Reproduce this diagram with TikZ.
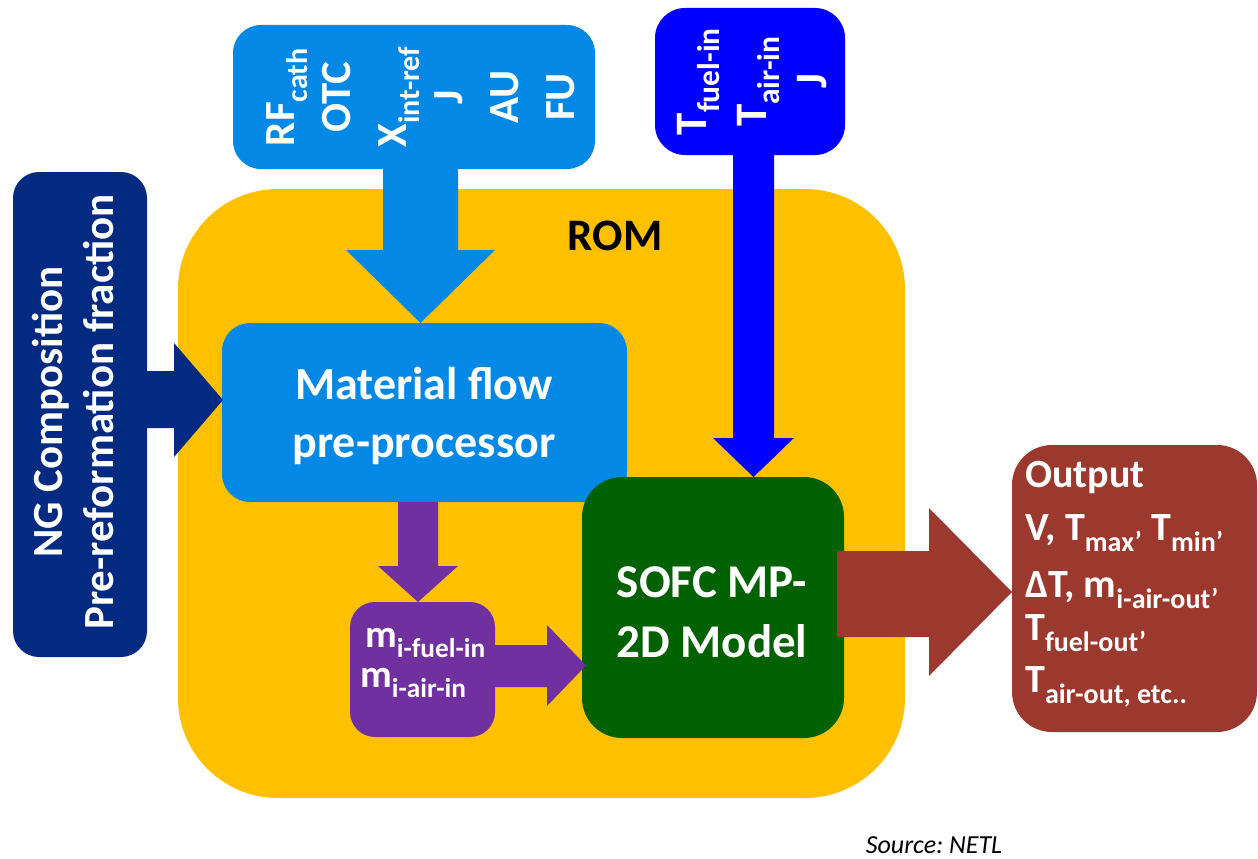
\documentclass[tikz,border=0pt]{standalone}
\usepackage{fontspec}
\setmainfont{Carlito}
\frenchspacing
\definecolor{romyellow}{RGB}{255,192,0}
\definecolor{lblue}{RGB}{4,136,230}
\definecolor{pureblue}{RGB}{0,0,255}
\definecolor{navyblue}{RGB}{2,42,128}
\definecolor{purp}{RGB}{112,48,160}
\definecolor{dgreen}{RGB}{0,97,0}
\definecolor{brownred}{RGB}{155,57,46}
\begin{document}
\begin{tikzpicture}[x=1pt,y=-1pt,
  boxshape/.style={rounded corners=#1, inner sep=0pt, outer sep=0pt, draw=none},
  wtext/.style={text=white, inner sep=0pt, align=center},
  linetext/.style={text=white, inner sep=0pt, anchor=base west}
]
\useasboundingbox (0,0) rectangle (1258,859);

% ROM container
\node[boxshape=100pt, fill=romyellow, minimum width=727pt, minimum height=609pt] (rom) at (541.5,493.5) {};
\node[inner sep=0pt, font=\fontsize{45}{52}\selectfont\bfseries] (romlabel) at (615,236) {ROM};

% input parameter box
\node[boxshape=28pt, fill=lblue, minimum width=362pt, minimum height=144pt] (params) at (414,97) {};
\node[wtext, rotate=90, font=\fontsize{43}{56}\selectfont\bfseries] (paramtext) at (421,97)
  {RF\textsubscript{cath}\\OTC\\X\textsubscript{int-ref}\\J\\AU\\FU};

% temperature box
\node[boxshape=30pt, fill=pureblue, minimum width=190pt, minimum height=147pt] (tbox) at (750,81.5) {};
\node[wtext, rotate=90, font=\fontsize{45}{60}\selectfont\bfseries] (ttext) at (752,81.5)
  {T\textsubscript{fuel-in}\\T\textsubscript{air-in}\\J};

% NG box
\node[boxshape=26pt, fill=navyblue, minimum width=134pt, minimum height=485pt] (ng) at (80,414.5) {};
\node[wtext, rotate=90, font=\fontsize{43}{51}\selectfont\bfseries] (ngtext) at (73,412)
  {NG Composition\\Pre-reformation fraction};

% material flow pre-processor
\node[boxshape=28pt, fill=lblue, minimum width=405pt, minimum height=179pt] (mat) at (424.5,412.5) {};
\node[wtext, font=\fontsize{46}{58}\selectfont\bfseries] (mattext) at (424,416)
  {Material flow\\pre-processor};

% mass flow box
\node[boxshape=25pt, fill=purp, minimum width=145pt, minimum height=135pt] (mbox) at (422.5,669.5) {};
\begin{scope}[every node/.style={linetext, font=\fontsize{39}{48}\selectfont\bfseries}]
\node (m1) at (365,647) {m\textsubscript{i-fuel-in}};
\node (m2) at (360,687) {m\textsubscript{i-air-in}};
\end{scope}

% SOFC model
\node[boxshape=40pt, fill=dgreen, minimum width=262pt, minimum height=261pt] (sofc) at (713,607.5) {};
\node[wtext, font=\fontsize{47}{60}\selectfont\bfseries] (sofctext) at (712,612)
  {SOFC MP-\\2D Model};

% output box
\node[boxshape=40pt, fill=brownred, minimum width=245pt, minimum height=287pt] (out) at (1134.5,588.5) {};
\begin{scope}[every node/.style={linetext, font=\fontsize{40}{48}\selectfont\bfseries}]
\node (o1) at (1025,487) {Output};
\node (o2) at (1025,540) {V, T\textsubscript{max’} T\textsubscript{min’}};
\node (o3) at (1025,597) {ΔT, m\textsubscript{i-air-out’}};
\node (o4) at (1025,640) {T\textsubscript{fuel-out’}};
\node (o5) at (1025,692) {T\textsubscript{air-out, etc..}};
\end{scope}

% block arrows
% params -> material
\fill[lblue] (383,169) -- (458,169) -- (458,250) -- (495,250) -- (420.5,323) -- (346,250) -- (383,250) -- cycle;
% NG -> material
\fill[navyblue] (147,371) -- (174,371) -- (174,343) -- (223,400) -- (174,457) -- (174,428) -- (147,428) -- cycle;
% T box -> SOFC
\fill[pureblue] (733,155) -- (774,155) -- (774,438) -- (794,438) -- (753.5,477) -- (713,438) -- (733,438) -- cycle;
% material -> mbox
\fill[purp] (398,502) -- (438,502) -- (438,566) -- (458,566) -- (418,602) -- (378,566) -- (398,566) -- cycle;
% mbox -> SOFC
\fill[purp] (495,645) -- (547,645) -- (547,625) -- (586,665.5) -- (547,706) -- (547,687) -- (495,687) -- cycle;
% SOFC -> output
\fill[brownred] (837,551) -- (929,551) -- (929,508) -- (1012,592) -- (929,676) -- (929,637) -- (837,637) -- cycle;

\node[inner sep=0pt, anchor=base, font=\fontsize{26}{30}\selectfont\itshape] (src) at (934,853) {Source: NETL};
\end{tikzpicture}
\end{document}
